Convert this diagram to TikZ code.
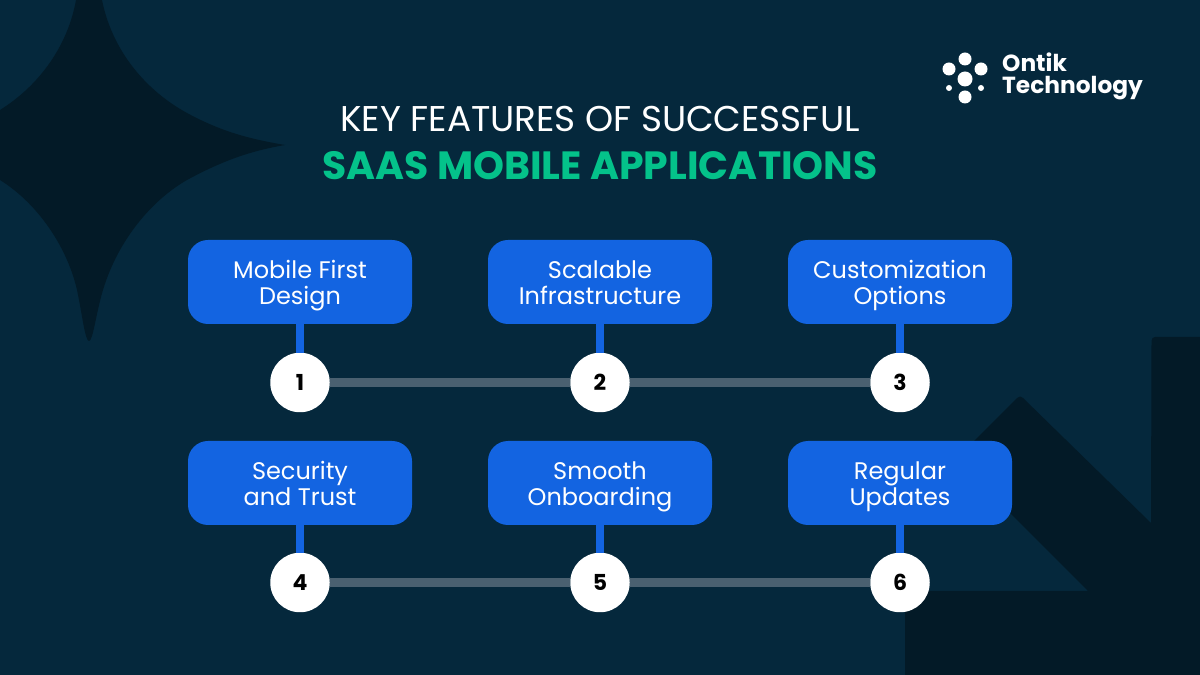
\documentclass[tikz,border=0pt]{standalone}
\usepackage{fontspec}
\setmainfont{Poppins}
\usepackage{xcolor}
\usetikzlibrary{positioning}
\definecolor{bgColor}{RGB}{5,40,60}
\definecolor{shadeColor}{RGB}{3,26,39}
\definecolor{boxColor}{RGB}{19,100,225}
\definecolor{railColor}{RGB}{74,96,112}
\definecolor{titleColor}{RGB}{4,194,138}
\tikzset{
  featurebox/.style={fill=boxColor,rounded corners=20pt,minimum width=224pt,minimum height=84pt,inner sep=0pt,
    align=center,text=white,text height=52pt,text depth=6pt,font=\fontsize{24}{26.5}\selectfont},
  numberdot/.style={circle,fill=white,minimum size=59.5pt,inner sep=0pt,text=black,font=\fontsize{22}{22}\selectfont\bfseries},
  stem/.style={draw=boxColor,line width=7.3pt},
  rail/.style={draw=railColor,line width=8.3pt},
  logodot/.style={circle,fill=white,inner sep=0pt},
  logotext/.style={text=white,anchor=base west,inner sep=0pt,font=\fontsize{23.3}{23.3}\selectfont\bfseries}
}
\begin{document}
\begin{tikzpicture}[x=1pt,y=1pt]
\path[use as bounding box,fill=bgColor] (0,0) rectangle (1200,675);

% star, top left
\path[fill=shadeColor] (102,675) .. controls (112,625) and (145,585) .. (187,562)
  .. controls (222,543) and (250,536) .. (285,530)
  .. controls (250,524) and (222,514) .. (187,495)
  .. controls (152,475) and (118,435) .. (103,385)
  .. controls (96,362) and (93,334) .. (89,334)
  .. controls (85,334) and (82,362) .. (77,385)
  .. controls (68,425) and (40,470) .. (0,495)
  -- (0,565) .. controls (40,590) and (68,630) .. (76,675) -- cycle;

% arrow, bottom right
\path[fill=shadeColor] (905,0) -- (905,84) -- (1088,84) -- (956,216) -- (1017,277)
  .. controls (1019,279) and (1021,279) .. (1023,277) -- (1151,152) -- (1151.5,334)
  .. controls (1151.5,336.5) and (1153,338) .. (1155,338) -- (1200,338) -- (1200,0) -- cycle;

% title
\node (titleTop) [text=white,inner sep=0pt,font=\fontsize{35.8}{36}\selectfont] at (600,556) {KEY FEATURES OF SUCCESSFUL};
\node (titleBottom) [text=titleColor,inner sep=0pt,font=\fontsize{39.4}{40}\selectfont\bfseries] at (600,509) {SAAS MOBILE APPLICATIONS};

% logo
\node (logoA) [logodot,minimum size=13pt] at (965,616) {};
\node (logoB) [logodot,minimum size=13pt] at (949,606) {};
\node (logoC) [logodot,minimum size=13pt] at (981,606) {};
\node (logoD) [logodot,minimum size=15pt] at (965,596) {};
\node (logoE) [logodot,minimum size=6pt] at (949,587) {};
\node (logoF) [logodot,minimum size=6pt] at (981,587) {};
\node (logoG) [logodot,minimum size=13pt] at (965,578) {};
\node (logoTop) [logotext] at (1002,603) {Ontik};
\node (logoBottom) [logotext] at (1002,581) {Technology};

% features
\node (box1) [featurebox] at (300,393) {Mobile First\\Design};
\node (box2) [featurebox] at (600,393) {Scalable\\Infrastructure};
\node (box3) [featurebox] at (900,393) {Customization\\Options};
\node (box4) [featurebox] at (300,192) {Security\\and Trust};
\node (box5) [featurebox] at (600,192) {Smooth\\Onboarding};
\node (box6) [featurebox] at (900,192) {Regular\\Updates};

\node (dot1) [numberdot] at (300,292.5) {1};
\node (dot2) [numberdot] at (600,292.5) {2};
\node (dot3) [numberdot] at (900,292.5) {3};
\node (dot4) [numberdot] at (300,92.5) {4};
\node (dot5) [numberdot] at (600,92.5) {5};
\node (dot6) [numberdot] at (900,92.5) {6};

\foreach \n in {1,...,6}
  \draw[stem] (box\n.south) -- (dot\n.north);
\draw[rail] (dot1) -- (dot2);
\draw[rail] (dot2) -- (dot3);
\draw[rail] (dot4) -- (dot5);
\draw[rail] (dot5) -- (dot6);
\end{tikzpicture}
\end{document}
